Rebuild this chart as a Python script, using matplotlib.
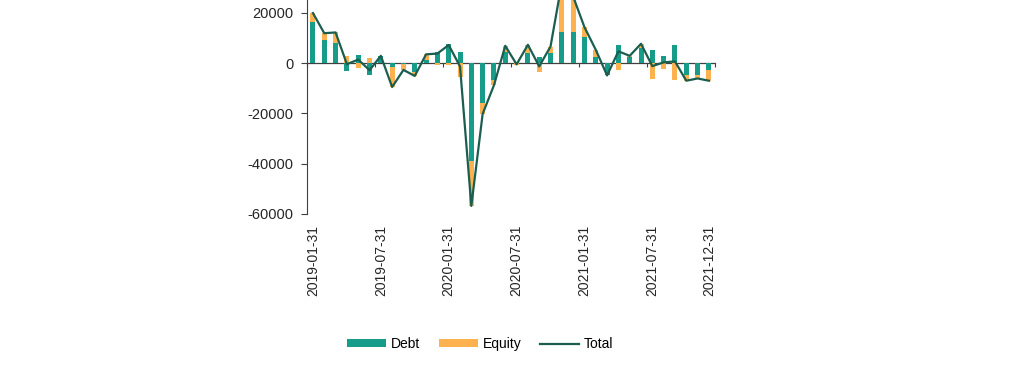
import numpy as np
import matplotlib.pyplot as plt

plt.rcParams['font.family'] = ['Liberation Sans', 'DejaVu Sans']
plt.rcParams['axes.unicode_minus'] = False

# monthly flows, 2019-01 .. 2021-12
months = [f"{y}-{m:02d}" for y in (2019, 2020, 2021) for m in range(1, 13)]
debt = [16500, 9000, 8200, -3300, 3400, -4800, 2700, -1700, -200, -3700, 1200, 4400,
        7800, 4400, -39000, -15900, -6600, 4600, 300, 4000, 2400, 4000, 12300, 12300,
        10200, 2300, -4600, 7300, 2400, 6000, 5200, 2800, 7300, -4600, -4600, -2900]
equity = [3400, 2900, 4000, 2900, -2000, 2000, 200, -7800, -2500, -1400, 2300, -600,
          -600, -5700, -17800, -4300, -2200, 2300, -800, 3300, -3700, 2600, 19700, 14200,
          4100, 3000, -300, -2600, 500, 1700, -6400, -2500, -6600, -2400, -1500, -4100]
tick_idx = [0, 6, 12, 18, 24, 30, 35]
tick_labels = ['2019-01-31', '2019-07-31', '2020-01-31', '2020-07-31',
               '2021-01-31', '2021-07-31', '2021-12-31']

TEAL = '#179c89'
ORANGE = '#fdb14f'
DARK = '#1b5e50'

debt = np.array(debt)
equity = np.array(equity)
total = debt + equity
x = np.arange(len(months))

# stack like excel: positives up, negatives down
eq_bottom = np.where(np.sign(equity) == np.sign(debt), debt, 0)

fig = plt.figure(figsize=(10.24, 3.88), dpi=100)
ax = fig.add_axes([0.3001, 0.4485, 0.3977, 0.648])

b1 = ax.bar(x, debt, width=0.44, color=TEAL, label='Debt', zorder=2)
b2 = ax.bar(x, equity, width=0.44, bottom=eq_bottom, color=ORANGE, label='Equity', zorder=2)
l1, = ax.plot(x, total, color=DARK, lw=1.6, label='Total', zorder=3)

ax.set_xlim(-0.5, len(months) - 0.5)
ax.set_ylim(-60000, 40000)
ax.set_yticks(np.arange(-60000, 20001, 20000))

ax.set_xticks(tick_idx)
ax.set_xticklabels(tick_labels, rotation=90)
ax.tick_params(axis='x', length=0, pad=8, labelsize=10, labelcolor='#262626')
ax.tick_params(axis='y', direction='out', length=4, width=0.8, color='#404040',
               labelsize=10.5, labelcolor='#262626', pad=6)

for s in ['top', 'right', 'bottom']:
    ax.spines[s].set_visible(False)
ax.spines['left'].set_color('#404040')

# zero line with small ticks between categories
sec = ax.secondary_xaxis(0.6)
sec.set_xticks(np.arange(-0.5, len(months), 6))
sec.set_xticklabels([])
sec.tick_params(direction='in', length=3, width=0.8, color='#404040',
                labelbottom=False, labeltop=False)
for s in sec.spines.values():
    s.set_color('#404040')
    s.set_linewidth(0.9)

fig.legend(handles=[b1, b2, l1], loc='center', bbox_to_anchor=(0.469, 0.1134),
           ncol=3, frameon=False, fontsize=10, handlelength=2.8, handleheight=0.45,
           handletextpad=0.35, columnspacing=1.35)

plt.savefig('out.png', dpi=100)
